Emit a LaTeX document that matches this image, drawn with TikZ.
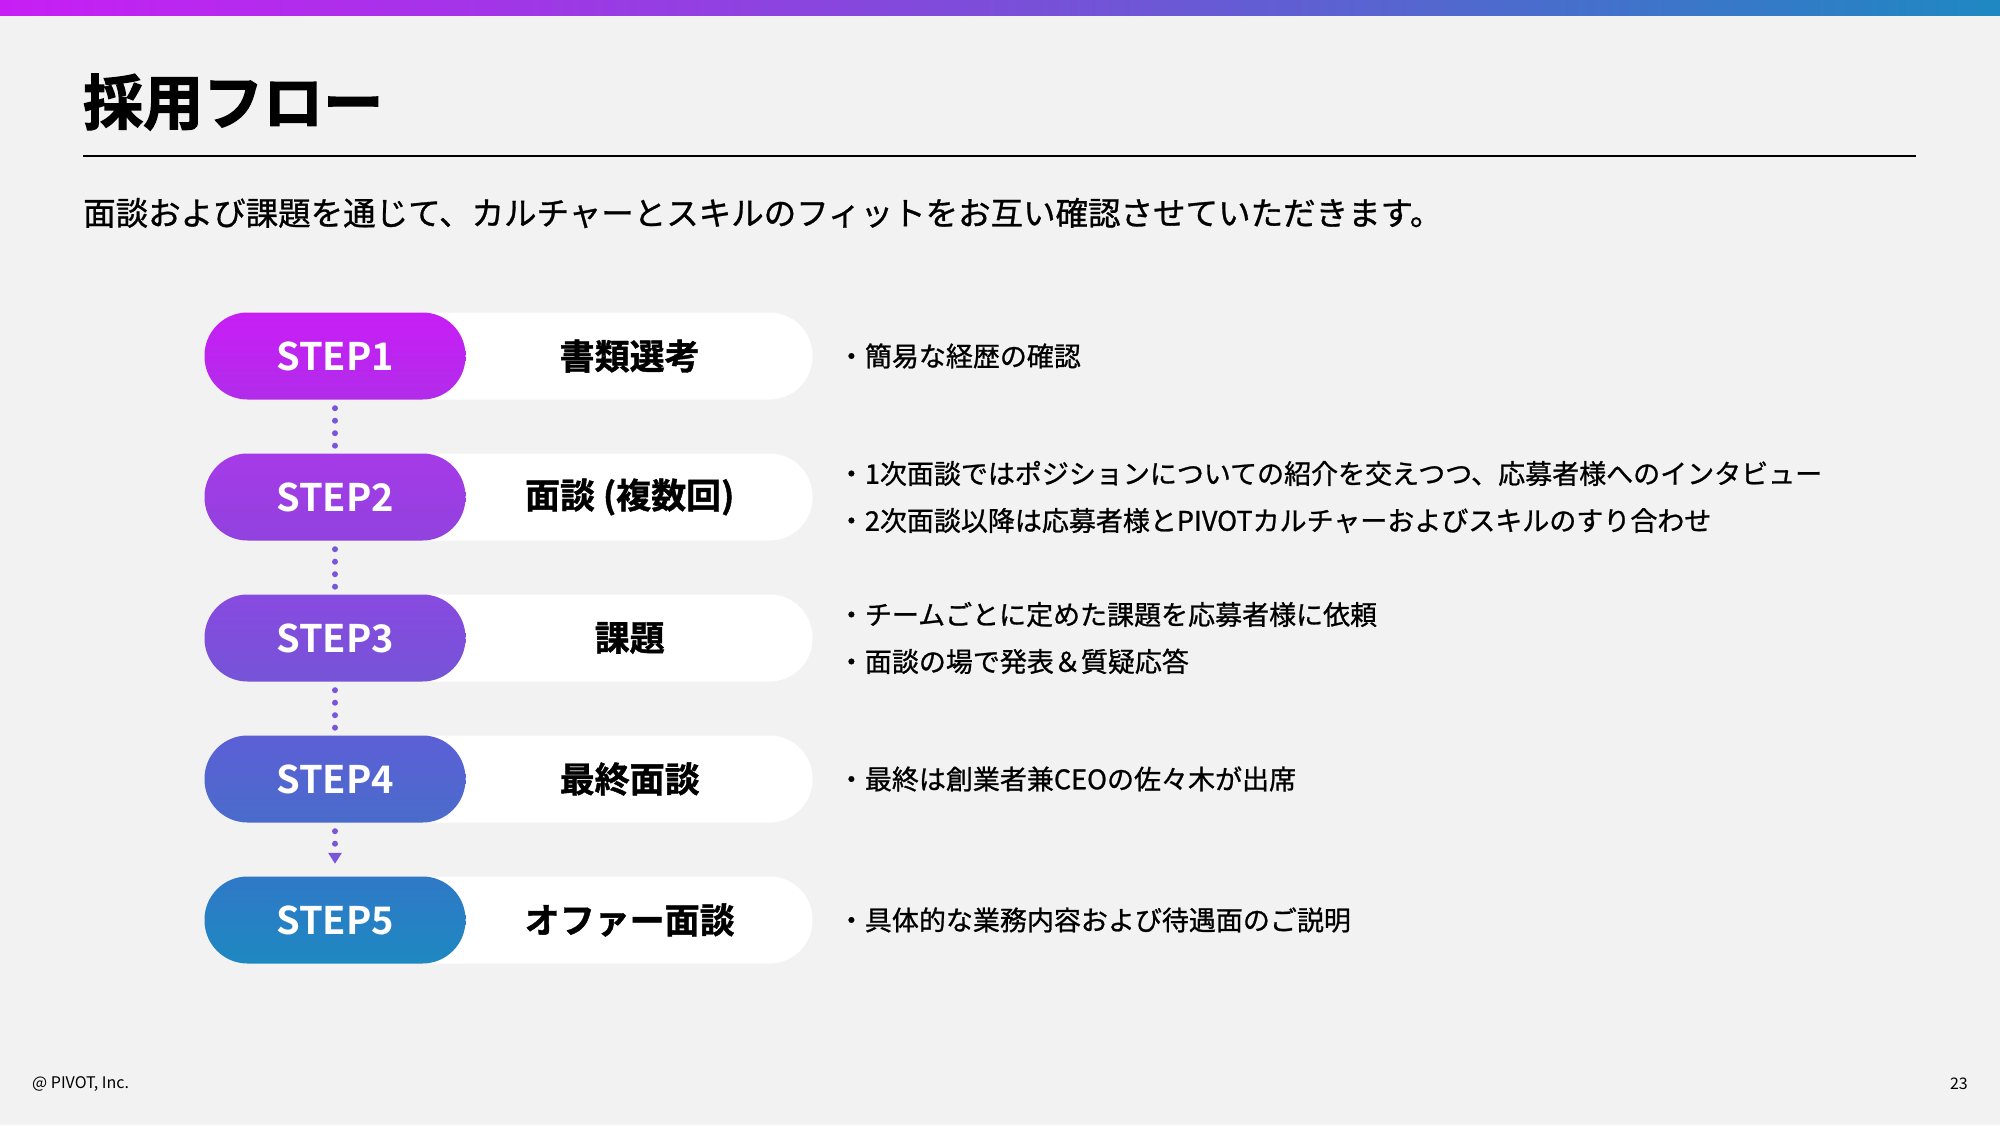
\documentclass[tikz,border=0pt]{standalone}
\usepackage{fontspec}
\setmainfont{Noto Sans CJK JP}[BoldFont={Noto Sans CJK JP Bold}]
\newfontfamily\medjp{Noto Sans CJK JP}[FakeBold=0.9]
\newfontfamily\heavyjp{Noto Sans CJK JP Bold}[FakeBold=2.2]
\newfontfamily\namejp{Noto Sans CJK JP Bold}[FakeBold=1.2]
\usetikzlibrary{positioning, arrows.meta, calc, backgrounds}

\definecolor{slidebg}{HTML}{F2F2F2}
\definecolor{barleft}{HTML}{C81EF5}
\definecolor{barmid}{HTML}{7B4ED9}
\definecolor{barright}{HTML}{1E88C2}
\definecolor{dotcol}{HTML}{7A55D9}
\definecolor{st1a}{HTML}{C81EF5}
\definecolor{st1b}{HTML}{B12CEA}
\definecolor{st2a}{HTML}{A63AE8}
\definecolor{st2b}{HTML}{9142DE}
\definecolor{st3a}{HTML}{884AE0}
\definecolor{st3b}{HTML}{7554D7}
\definecolor{st4a}{HTML}{5C5FD6}
\definecolor{st4b}{HTML}{4A6CCB}
\definecolor{st5a}{HTML}{2F79C7}
\definecolor{st5b}{HTML}{1E88C1}

\begin{document}
\begin{tikzpicture}[x=1pt, y=-1pt, node distance=141pt, inner sep=0pt,
    steppill/.style 2 args={minimum width=261pt, minimum height=87pt, rounded corners=43pt, top color=#1, bottom color=#2, text=white, font=\fontsize{38}{38}\selectfont\bfseries},
    backpill/.style={fill=white, minimum width=420pt, minimum height=87pt, rounded corners=43pt},
    stepname/.style={font=\fontsize{35}{35}\selectfont\namejp},
    stepnote/.style={font=\fontsize{27}{47}\selectfont\medjp, align=left},
    dotline/.style={dotcol, line width=6pt, line cap=round, dash pattern=on 0pt off 12.5pt}]
    \begin{scope}[on background layer]
        \fill[slidebg] (0,0) rectangle (2000,1125);
    \end{scope}
    \useasboundingbox (0,0) rectangle (2000,1125);
    \shade[left color=barleft, right color=barright, middle color=barmid] (0,0) rectangle (2000,15);

    % heading
    \node[anchor=west, font=\fontsize{60}{60}\selectfont\heavyjp] (title) at (83,102) {採用フロー};
    \coordinate (rulel) at (83,156);
    \coordinate (ruler) at (1916,156);
    \draw[line width=1.5pt] (rulel) -- (ruler);
    \node[anchor=west, font=\fontsize{32.5}{32.5}\selectfont\medjp] (lead) at (83,213) {面談および課題を通じて、カルチャーとスキルのフィットをお互い確認させていただきます。};

    % steps
    \node[steppill={st1a}{st1b}] (1s) at (335,356) {STEP1};
    \node[steppill={st2a}{st2b}] (2s) [below of=1s] {STEP2};
    \node[steppill={st3a}{st3b}] (3s) [below of=2s] {STEP3};
    \node[steppill={st4a}{st4b}] (4s) [below of=3s] {STEP4};
    \node[steppill={st5a}{st5b}] (5s) [below of=4s] {STEP5};
    \begin{scope}[on background layer]
        \node[backpill] (1b) [right=347pt of 1s, anchor=east] {};
        \node[backpill] (2b) [right=347pt of 2s, anchor=east] {};
        \node[backpill] (3b) [right=347pt of 3s, anchor=east] {};
        \node[backpill] (4b) [right=347pt of 4s, anchor=east] {};
        \node[backpill] (5b) [right=347pt of 5s, anchor=east] {};
    \end{scope}
    \node[stepname] (1n) [right=164pt of 1s, anchor=center] {書類選考};
    \node[stepname] (2n) [right=164pt of 2s, anchor=center] {面談 (複数回)};
    \node[stepname] (3n) [right=164pt of 3s, anchor=center] {課題};
    \node[stepname] (4n) [right=164pt of 4s, anchor=center] {最終面談};
    \node[stepname] (5n) [right=164pt of 5s, anchor=center] {オファー面談};

    % notes
    \node[stepnote] (1d) [right=372pt of 1s] {・簡易な経歴の確認};
    \node[stepnote] (2d) [right=372pt of 2s] {・1次面談ではポジションについての紹介を交えつつ、応募者様へのインタビュー\\・2次面談以降は応募者様とPIVOTカルチャーおよびスキルのすり合わせ};
    \node[stepnote] (3d) [right=372pt of 3s] {・チームごとに定めた課題を応募者様に依頼\\・面談の場で発表＆質疑応答};
    \node[stepnote] (4d) [right=372pt of 4s] {・最終は創業者兼CEOの佐々木が出席};
    \node[stepnote] (5d) [right=372pt of 5s] {・具体的な業務内容および待遇面のご説明};

    \draw[dotline] ($(1s.south)+(0,8.5)$) -- ($(2s.north)+(0,-6.5)$);
    \draw[dotline] ($(2s.south)+(0,8.5)$) -- ($(3s.north)+(0,-6.5)$);
    \draw[dotline] ($(3s.south)+(0,8.5)$) -- ($(4s.north)+(0,-6.5)$);
    \draw[dotline, -{Triangle[length=11pt, width=13pt]}] ($(4s.south)+(0,8.5)$) -- ($(5s.north)+(0,-12.5)$);

    % footer
    \node[anchor=west, font=\fontsize{16}{16}\selectfont] (copy) at (32,1084) {@ PIVOT, Inc.};
    \node[anchor=east, font=\fontsize{16}{16}\selectfont] (page) at (1968,1084) {23};
\end{tikzpicture}
\end{document}
